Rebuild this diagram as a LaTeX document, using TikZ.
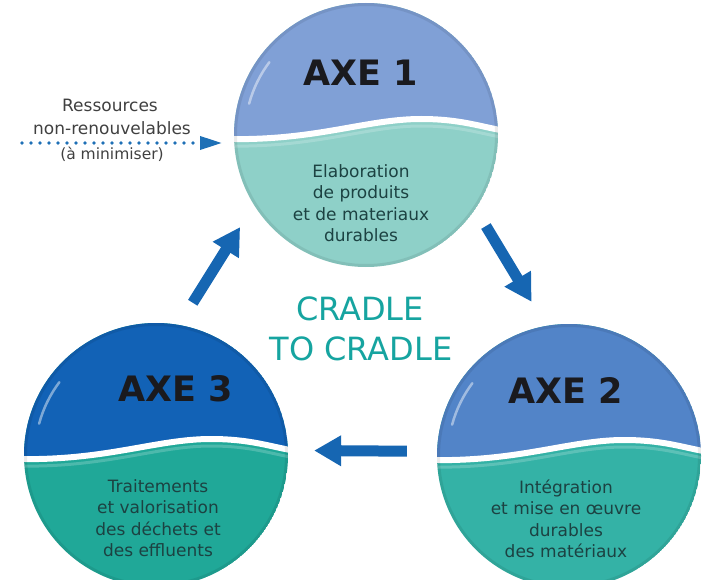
\documentclass[tikz,border=0pt]{standalone}
\usepackage{fontspec}
\setmainfont{DejaVu Sans}
\usetikzlibrary{arrows.meta}
\definecolor{topA}{RGB}{128,160,214}
\definecolor{botA}{RGB}{142,208,200}
\definecolor{topB}{RGB}{82,132,200}
\definecolor{botB}{RGB}{52,178,166}
\definecolor{topC}{RGB}{18,98,182}
\definecolor{botC}{RGB}{32,168,152}
\definecolor{arrowblue}{RGB}{22,102,178}
\definecolor{dotblue}{RGB}{30,112,182}
\definecolor{cradleteal}{RGB}{22,164,160}
\definecolor{bodycol}{RGB}{28,66,66}
\definecolor{labelgray}{RGB}{64,64,64}
\definecolor{axetext}{RGB}{26,26,30}
\newcommand\axeball[4]{%
\begin{scope}[shift={(#1,#2)}]
 \begin{scope}
  \clip (0,0) circle[radius=132];
  \fill[#4] (0,0) circle[radius=132];
  \fill[#3] (-140,4) .. controls (-50,6) and (0,-16) .. (55,-16) .. controls (95,-16) and (115,-8) .. (140,-4) -- (140,-140) -- (-140,-140) -- cycle;
  \draw[white, opacity=.2, line width=3pt] (-140,11) .. controls (-50,13) and (0,-9) .. (55,-9) .. controls (95,-9) and (115,-1) .. (140,3);
  \draw[white, line width=6pt] (-140,4) .. controls (-50,6) and (0,-16) .. (55,-16) .. controls (95,-16) and (115,-8) .. (140,-4);
  \draw[black, opacity=.08, line width=4pt] (0,0) circle[radius=131];
  \draw[white, opacity=.45, line width=2.5pt, line cap=round] (-165:121) arc[start angle=-165, end angle=-143, radius=121];
 \end{scope}
\end{scope}}
\begin{document}
\begin{tikzpicture}[x=1pt,y=-1pt,
  axelabel/.style={font=\fontsize{35}{40}\selectfont\bfseries, text=axetext, inner sep=0pt},
  bodytext/.style={font=\fontsize{17}{21.5}\selectfont, text=bodycol, align=center, inner sep=0pt},
  ball/.style={circle, minimum size=264pt, inner sep=0pt},
  bigarrow/.style={draw=arrowblue, line width=11pt, -{Triangle[width=29pt,length=27pt]}},
  resline/.style={draw=dotblue, line width=3.6pt, line cap=round, dash pattern=on 0pt off 9pt, -{Triangle[width=13pt,length=22pt]}},
  restext/.style={font=\fontsize{17}{20}\selectfont, text=labelgray, inner sep=0pt},
  cradle/.style={font=\fontsize{32}{40}\selectfont, text=cradleteal, inner sep=0pt}]
\useasboundingbox (0,0) rectangle (704,580);
\axeball{366}{135}{topA}{botA}
\axeball{569}{456}{topB}{botB}
\axeball{156}{455}{topC}{botC}
\node[ball] (c1) at (366,135) {};
\node[ball] (c2) at (569,456) {};
\node[ball] (c3) at (156,455) {};
\node[axelabel] (a1) at (361,73) {AXE 1};
\node[axelabel] (a2) at (566,391) {AXE 2};
\node[axelabel] (a3) at (176,389) {AXE 3};
\node[bodytext] (b1) at (361,203) {Elaboration\\de produits\\et de materiaux\\durables};
\node[bodytext] (b2) at (566,519) {Intégration\\et mise en œuvre\\durables\\des matériaux};
\node[bodytext] (b3) at (158,518) {Traitements\\et valorisation\\des déchets et\\des effluents};
\node[cradle, anchor=base] (cr1) at (360,320) {CRADLE};
\node[cradle, anchor=base] (cr2) at (361,360) {TO CRADLE};
\node[restext] (r1) at (110,105) {Ressources};
\node[restext] (r2) at (112,128) {non-renouvelables};
\node[restext, font=\fontsize{15.5}{18}\selectfont] (r3) at (112,154) {(à minimiser)};
\coordinate (rs) at (22,143);
\coordinate (re) at (222,143);
\draw[resline] (rs) -- (re);
\draw[bigarrow, shorten <=26pt, shorten >=26pt] (c3.80) -- (c1.212);
\draw[bigarrow, shorten <=20pt, shorten >=28pt] (c1.326) -- (c2.100);
\draw[bigarrow, shorten <=30pt, shorten >=26pt] (c2.178) -- (c3.2);
\end{tikzpicture}
\end{document}
